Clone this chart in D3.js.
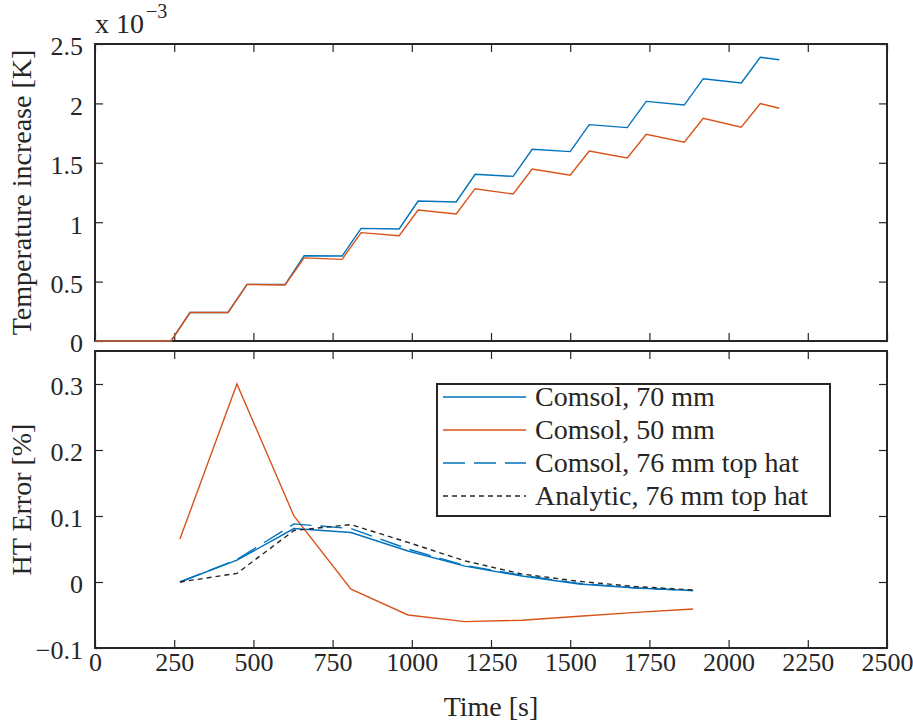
<!DOCTYPE html>
<html>
<head>
<meta charset="utf-8">
<script src="https://cdn.jsdelivr.net/npm/d3@7"></script>
<style>
  html, body { margin: 0; padding: 0; background: #fff; }
  svg { display: block; }
  text { font-family: "Liberation Serif", "Tinos", "Times New Roman", "DejaVu Serif", serif; fill: #262626; }
</style>
</head>
<body>
<svg id="chart" width="913" height="725"></svg>
<script>
// ---- Top panel: temperature rise (units of 1e-3 K) ----
const tempTime = [0, 240, 300, 420, 480, 600, 660, 780, 840, 960, 1020, 1140, 1200, 1320, 1380, 1500, 1560, 1680, 1740, 1860, 1920, 2040, 2100, 2160];
const temp70 = [0, 0, 0.24, 0.24, 0.477, 0.475, 0.718, 0.715, 0.948, 0.943, 1.178, 1.170, 1.403, 1.386, 1.614, 1.594, 1.821, 1.796, 2.017, 1.986, 2.208, 2.172, 2.388, 2.368];
const temp50 = [0, 0, 0.24, 0.24, 0.477, 0.472, 0.700, 0.687, 0.912, 0.886, 1.103, 1.069, 1.282, 1.237, 1.448, 1.395, 1.599, 1.540, 1.740, 1.673, 1.874, 1.799, 1.998, 1.959];
const tempTicks = [0, 0.5, 1, 1.5, 2, 2.5];

// ---- Bottom panel: heat-transfer error (%) ----
const errTime = [268, 448, 628, 808, 988, 1168, 1348, 1528, 1708, 1888];
const err70 = [0, 0.033, 0.081, 0.075, 0.047, 0.024, 0.009, -0.003, -0.009, -0.013];
const err50 = [0.065, 0.300, 0.100, -0.011, -0.050, -0.060, -0.058, -0.052, -0.046, -0.041];
const err76 = [0, 0.034, 0.088, 0.081, 0.050, 0.025, 0.010, -0.002, -0.009, -0.013];
const errAnalytic = [0, 0.013, 0.078, 0.087, 0.060, 0.032, 0.012, 0.001, -0.007, -0.012];
const errTicks = [-0.1, 0, 0.1, 0.2, 0.3];

const timeTicks = [0, 250, 500, 750, 1000, 1250, 1500, 1750, 2000, 2250, 2500];

const legendLabels = ["Comsol, 70 mm", "Comsol, 50 mm", "Comsol, 76 mm top hat", "Analytic, 76 mm top hat"];

// ---- Styling ----
const BLUE = "#0072BD", ORANGE = "#D95319", BLACK = "#262626";
const TICK_FONT = 26, LABEL_FONT = 28, TICK = 8;
const L = 95, R = 887;
const panels = { top: [44, 341], bottom: [351, 648] };

const svg = d3.select("#chart");
const x = d3.scaleLinear().domain([0, 2500]).range([L, R]);
const yTemp = d3.scaleLinear().domain([0, 2.5]).range([panels.top[1], panels.top[0]]);
const yErr = d3.scaleLinear().domain([-0.1, 0.35]).range([panels.bottom[1], panels.bottom[0]]);

const fmt = d => (d < 0 ? "\u2212" + Math.abs(d) : String(d));

function frame(y, yTicks, showX) {
  const [y0, y1] = y.range(); // bottom, top
  const g = svg.append("g");
  // inward ticks on all four sides
  const bottom = g.append("g").attr("transform", `translate(0,${y0})`)
    .call(d3.axisBottom(x).tickValues(timeTicks).tickSizeInner(-TICK).tickSizeOuter(0)
      .tickPadding(4).tickFormat(showX ? fmt : () => ""));
  g.append("g").attr("transform", `translate(0,${y1})`)
    .call(d3.axisTop(x).tickValues(timeTicks).tickSizeInner(-TICK).tickSizeOuter(0).tickFormat(() => ""));
  const left = g.append("g").attr("transform", `translate(${L},0)`)
    .call(d3.axisLeft(y).tickValues(yTicks).tickSizeInner(-TICK).tickSizeOuter(0)
      .tickPadding(12).tickFormat(fmt));
  g.append("g").attr("transform", `translate(${R},0)`)
    .call(d3.axisRight(y).tickValues(yTicks).tickSizeInner(-TICK).tickSizeOuter(0).tickFormat(() => ""));
  g.selectAll(".domain").remove();
  g.selectAll(".tick line").attr("stroke", BLACK).attr("stroke-width", 1.2);
  g.selectAll(".tick text").attr("font-size", TICK_FONT).attr("fill", BLACK);
  bottom.selectAll(".tick text").attr("dy", "0.72em");
  left.selectAll(".tick text").attr("dy", "0.42em");
  // box
  g.append("rect").attr("x", L).attr("y", y1).attr("width", R - L).attr("height", y0 - y1)
    .attr("fill", "none").attr("stroke", BLACK).attr("stroke-width", 2);
  return g;
}

function series(y, xs, ys, color, dash) {
  const line = d3.line().x((d, i) => x(xs[i])).y(d => y(d));
  svg.append("path").datum(ys).attr("d", line)
    .attr("fill", "none").attr("stroke", color).attr("stroke-width", 1.4)
    .attr("stroke-dasharray", dash || null).attr("stroke-linejoin", "miter");
}

// Top panel: axes first, data on top
frame(yTemp, tempTicks, false);
series(yTemp, tempTime, temp70, BLUE);
series(yTemp, tempTime, temp50, ORANGE);

// exponent label
const expo = svg.append("text").attr("x", 95).attr("y", 33).attr("font-size", LABEL_FONT);
expo.append("tspan").text("x 10");
expo.append("tspan").attr("font-size", 20).attr("dy", -15).attr("dx", 2).text("\u22123");

// Bottom panel
const styles = [
  { ys: err70, color: BLUE, dash: null },
  { ys: err50, color: ORANGE, dash: null },
  { ys: err76, color: BLUE, dash: "22,9" },
  { ys: errAnalytic, color: BLACK, dash: "5,4" }
];
frame(yErr, errTicks, true);
styles.forEach(s => series(yErr, errTime, s.ys, s.color, s.dash));

// Legend
const lg = svg.append("g");
lg.append("rect").attr("x", 437).attr("y", 384).attr("width", 393).attr("height", 132)
  .attr("fill", "#fff").attr("stroke", BLACK).attr("stroke-width", 2);
styles.forEach((s, i) => {
  const yy = 397 + i * 33;
  lg.append("line").attr("x1", 443).attr("x2", 526).attr("y1", yy).attr("y2", yy)
    .attr("stroke", s.color).attr("stroke-width", 1.4).attr("stroke-dasharray", s.dash);
  lg.append("text").attr("x", 535).attr("y", yy).attr("dy", "0.33em")
    .attr("font-size", LABEL_FONT).text(legendLabels[i]);
});

// Axis titles
svg.append("text").attr("transform", `translate(31,${(panels.top[0] + panels.top[1]) / 2}) rotate(-90)`)
  .attr("text-anchor", "middle").attr("font-size", LABEL_FONT).text("Temperature increase [K]");
svg.append("text").attr("transform", `translate(31,${(panels.bottom[0] + panels.bottom[1]) / 2}) rotate(-90)`)
  .attr("text-anchor", "middle").attr("font-size", LABEL_FONT).text("HT Error [%]");
svg.append("text").attr("x", (L + R) / 2).attr("y", 716)
  .attr("text-anchor", "middle").attr("font-size", LABEL_FONT).text("Time [s]");
</script>
</body>
</html>
